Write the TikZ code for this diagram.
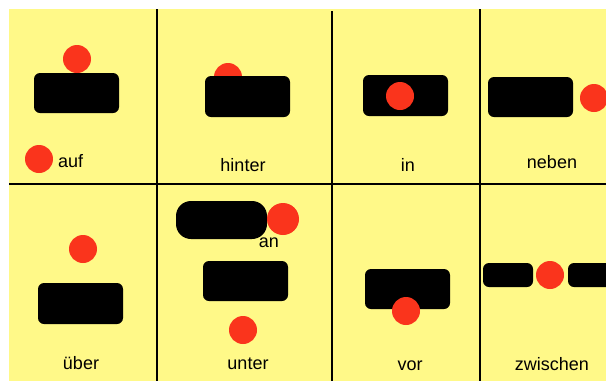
\documentclass[tikz,border=0pt]{standalone}
\usepackage{fontspec}
\setmainfont{Liberation Sans}
\definecolor{bgyellow}{RGB}{255,249,136}
\definecolor{dotred}{RGB}{250,52,28}
\begin{document}
\begin{tikzpicture}[x=1pt,y=-1pt,
  blk/.style={fill=black,rounded corners=6pt},
  pill/.style={fill=black,rounded corners=15pt},
  dot/.style={fill=dotred},
  grid/.style={line width=2.8pt,black},
  lbl/.style={font=\fontsize{18}{21}\selectfont,inner sep=0pt}]
\useasboundingbox (0,0) rectangle (606,381);
\fill[white] (0,0) rectangle (606,381);
\fill[bgyellow] (9,9) rectangle (606,381);
% grid lines
\draw[grid] (157,9) -- (157,381);
\draw[grid] (332,11) -- (332,381);
\draw[grid] (480,9) -- (480,381);
\draw[grid] (9,184) -- (606,184);
% auf
\fill[dot] (77,59) circle (14);
\fill[blk] (34,73) rectangle (119,113);
\fill[dot] (39,159) circle (14);
\node[lbl,anchor=west] (auf) at (58,161) {auf};
% hinter
\fill[dot] (228,77) circle (14);
\fill[blk] (205,76) rectangle (290,117);
\node[lbl] (hinter) at (243,165) {hinter};
% in
\fill[blk] (363,75) rectangle (448,116);
\fill[dot] (400,96) circle (14);
\node[lbl] (in) at (408,165) {in};
% neben
\fill[blk] (488,77) rectangle (573,117);
\fill[dot] (594,98) circle (14);
\node[lbl] (neben) at (552,162) {neben};
% ueber
\fill[dot] (83,249) circle (14);
\fill[blk] (38,283) rectangle (123,324);
\node[lbl] (ueber) at (81,363) {über};
% an / unter
\fill[pill] (176,201) rectangle (267,239);
\fill[dot] (283,219) circle (16);
\node[lbl] (an) at (269,243) {an};
\fill[blk] (203,261) rectangle (288,301);
\fill[dot] (243,330) circle (14);
\node[lbl] (unter) at (248,364) {unter};
% vor
\fill[blk] (365,269) rectangle (450,309);
\fill[dot] (406,311) circle (14);
\node[lbl] (vor) at (410,366) {vor};
% zwischen
\fill[blk] (483,263) rectangle (533,287);
\fill[dot] (550,275) circle (14);
\fill[blk] (568,263) rectangle (620,287);
\fill[white] (606,0) rectangle (620,381);
\node[lbl] (zwischen) at (552,364) {zwischen};
\end{tikzpicture}
\end{document}
